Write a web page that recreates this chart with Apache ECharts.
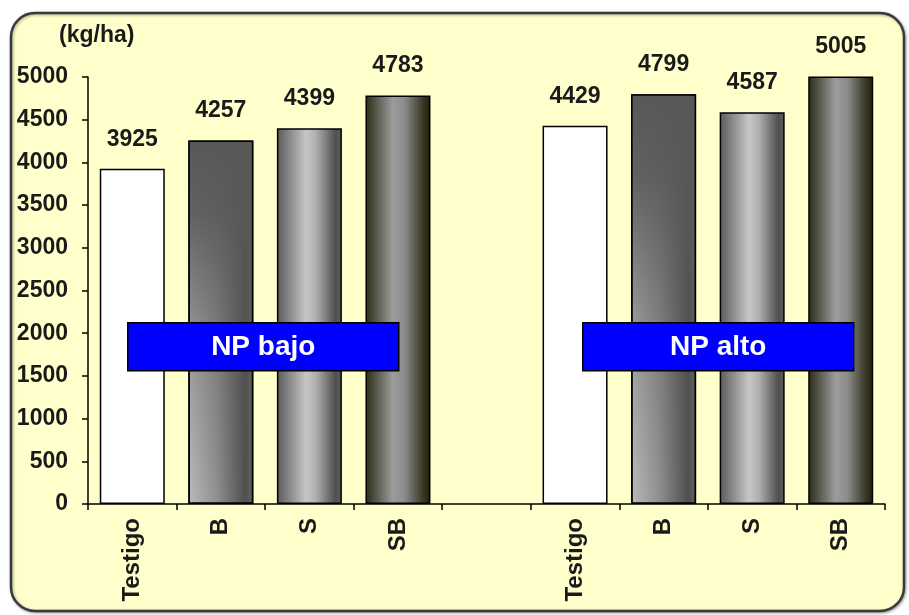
<!DOCTYPE html>
<html>
<head>
<meta charset="utf-8">
<script src="https://cdn.jsdelivr.net/npm/echarts@6/dist/echarts.min.js"></script>
<style>
  html, body { margin: 0; padding: 0; background: #ffffff; }
  #chart { width: 909px; height: 615px; }
</style>
</head>
<body>
<div id="chart"></div>
<script>
// Yield (kg/ha) by treatment, for low and high NP fertilisation
const treatments = ['Testigo', 'B', 'S', 'SB'];
const npBajo = [3925, 4257, 4399, 4783];
const npAlto = [4429, 4799, 4587, 5005];
const groupNames = ['NP bajo', 'NP alto'];
const unitLabel = '(kg/ha)';
const yMin = 0, yMax = 5000, yStep = 500;

const FONT = '"Liberation Sans", Arial, sans-serif';

// one empty slot separates the two groups
const categories = [...treatments, '', ...treatments];
const values = [...npBajo, '-', ...npAlto];

function grad(x2, y2, stops) {
  return new echarts.graphic.LinearGradient(0, 0, x2, y2,
    stops.map(([offset, color]) => ({ offset, color })));
}

// fill of each treatment's bar
function fillFor(name) {
  switch (name) {
    case 'Testigo': return '#ffffff';
    case 'B': return grad(1, 0, [[0, '#bcbcbc'], [0.45, '#8e8e8e'], [0.88, '#4e4e4e'], [1, '#666666']]);
    case 'S': return grad(1, 0, [[0, '#5a5a5a'], [0.45, '#c6c6c6'], [0.6, '#b0b0b0'], [0.9, '#505050'], [1, '#5e5e5e']]);
    case 'SB': return grad(1, 0, [[0, '#2a2a16'], [0.42, '#9c9c9c'], [0.6, '#8c8c8c'], [0.9, '#34341f'], [1, '#202010']]);
  }
  return '#999';
}

const mainData = values.map((v, i) => v === '-' ? '-' : {
  value: v,
  itemStyle: { color: fillFor(categories[i]) }
});

// B bars darken towards the top: a fading overlay on the same values
const shadeData = values.map((v, i) => (v !== '-' && categories[i] === 'B') ? v : '-');

const chart = echarts.init(document.getElementById('chart'), null, { renderer: 'canvas' });

function groupBox(left, text) {
  return {
    type: 'group', zlevel: 1, left: left, top: 322,
    children: [
      { type: 'rect', zlevel: 1, shape: { x: 0, y: 0, width: 271, height: 48 },
        style: { fill: '#0000ff', stroke: '#000', lineWidth: 1.5 } },
      { type: 'text', zlevel: 1, x: 135.5, y: 25,
        style: { text: text, fill: '#ffffff', align: 'center', verticalAlign: 'middle',
                 font: 'bold 28px ' + FONT } }
    ]
  };
}

chart.setOption({
  backgroundColor: '#ffffff',
  animation: false,
  title: {
    text: unitLabel,
    left: 59, top: 24, padding: 0,
    textStyle: { fontFamily: FONT, fontSize: 23, fontWeight: 'bold', color: '#1a1a1a' }
  },
  grid: { left: 88, right: 24, top: 77, bottom: 111, containLabel: false },
  xAxis: {
    type: 'category',
    data: categories,
    axisLine: { lineStyle: { color: '#000', width: 1.5 } },
    axisTick: { show: true, length: 6, lineStyle: { color: '#000', width: 1.5 } },
    axisLabel: {
      rotate: 90, margin: 14, interval: 0,
      fontFamily: FONT, fontSize: 24, fontWeight: 'bold', color: '#1a1a1a'
    }
  },
  yAxis: {
    type: 'value',
    min: yMin, max: yMax, interval: yStep,
    axisLine: { show: true, lineStyle: { color: '#000', width: 1.5 } },
    axisTick: { show: true, length: 6, lineStyle: { color: '#000', width: 1.5 } },
    splitLine: { show: false },
    axisLabel: {
      margin: 20,
      formatter: v => String(v),
      fontFamily: FONT, fontSize: 23, fontWeight: 'bold', color: '#1a1a1a'
    }
  },
  series: [
    {
      type: 'bar',
      data: mainData,
      barWidth: 65,
      barGap: '-100%',
      clip: false,
      itemStyle: { borderColor: '#000', borderWidth: 1.5 },
      label: {
        show: true, position: 'top', distance: 18,
        fontFamily: FONT, fontSize: 23, fontWeight: 'bold', color: '#1a1a1a'
      },
      z: 2
    },
    {
      type: 'bar',
      data: shadeData,
      barWidth: 65,
      barGap: '-100%',
      silent: true,
      clip: false,
      itemStyle: {
        borderColor: '#000', borderWidth: 1.5,
        color: grad(0, 1, [
          [0, 'rgba(88,88,88,1)'],
          [0.2, 'rgba(88,88,88,0.9)'],
          [0.55, 'rgba(88,88,88,0.35)'],
          [1, 'rgba(88,88,88,0)']
        ])
      },
      z: 3
    }
  ],
  graphic: [
    {
      type: 'rect', z: -10,
      shape: { x: 11, y: 13, width: 893, height: 598, r: 24 },
      style: {
        fill: '#ffffcc', stroke: '#3a3a3a', lineWidth: 2.5,
        shadowBlur: 3, shadowColor: 'rgba(0,0,0,0.35)', shadowOffsetX: 1, shadowOffsetY: 1
      }
    },
    groupBox(127, groupNames[0]),
    groupBox(582, groupNames[1])
  ]
});
</script>
</body>
</html>
